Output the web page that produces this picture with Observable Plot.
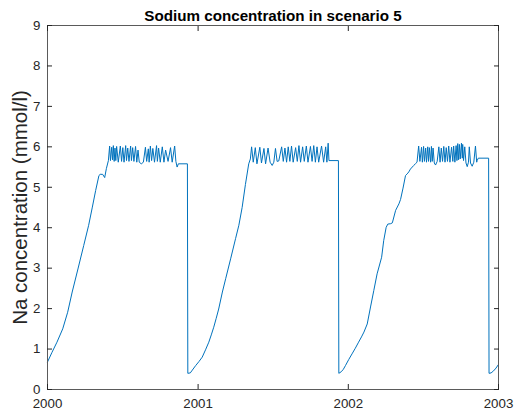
<!DOCTYPE html>
<html>
<head>
<meta charset="utf-8">
<script src="https://cdn.jsdelivr.net/npm/d3@7"></script>
<script src="https://cdn.jsdelivr.net/npm/@observablehq/plot@0.6"></script>
<style>
  html, body { margin: 0; padding: 0; background: #fff; }
</style>
</head>
<body>
<div id="chart"></div>
<script>
// Sodium concentration, scenario 5: [day since 2000-01-01, Na (mmol/l)]
const cycle2000 = [
  [0,0.68],[11,0.92],[23,1.17],[37,1.50],[49,1.91],[60,2.41],[74,2.98],[88,3.56],[100,4.06],
  [109,4.51],[117,4.92],[125,5.29],[128,5.32],[134,5.32],[139,5.24],[143,5.46],[148,5.66],
  [151,6.02],[153,5.66],[156,5.99],[158,5.68],[160,6.03],[162,5.64],[164,5.97],[166,5.66],
  [168,6.01],[172,5.62],[177,6.02],[180,5.64],[183,5.98],[186,5.62],[190,6.03],[192,5.66],
  [195,5.97],[198,5.64],[202,6.02],[204,5.66],[207,5.98],[210,5.64],[214,6.01],[217,5.62],
  [220,5.92],[223,5.62],[228,5.58],[233,5.62],[238,5.99],[241,5.64],[245,5.95],[247,5.62],
  [250,6.02],[253,5.66],[256,5.96],[260,5.62],[265,6.03],[267,5.64],[270,5.97],[274,5.62],
  [279,6.00],[283,5.62],[287,5.92],[293,5.64],[299,5.98],[303,5.62],[309,6.02],[312,5.64],
  [315,5.50],[318,5.58],[340,5.58]
];
const cycle2001 = [
  [341,0.40],[347,0.41],[352,0.48],[360,0.59],[368,0.69],[376,0.80],[384,0.98],[392,1.17],
  [398,1.35],[404,1.54],[410,1.76],[416,1.99],[425,2.41],[433,2.74],[445,3.23],[457,3.73],
  [465,4.06],[473,4.50],[481,5.07],[489,5.58],[493,5.70],
  [496,6.00],[500,5.62],[505,5.98],[509,5.58],[516,5.99],[520,5.60],[526,5.96],[530,5.58],
  [536,5.97],[541,5.62],[546,5.54],[550,5.62],[554,5.96],[558,5.64],[562,5.65],[569,6.00],
  [573,5.64],[577,5.97],[581,5.62],[585,6.00],[589,5.64],[593,6.02],[597,5.62],[603,5.98],
  [607,5.64],[611,6.03],[615,5.62],[620,6.00],[624,5.64],[629,6.02],[633,5.62],[639,6.01],
  [643,5.64],[647,6.03],[651,5.62],[655,6.00],[659,5.62],[666,6.02],[671,5.62],[676,6.00],
  [679,5.62],[682,6.09],[684,5.66],[707,5.66]
];
const cycle2002 = [
  [708,0.40],[714,0.44],[719,0.50],[724,0.59],[732,0.74],[740,0.88],[748,1.02],[756,1.17],
  [763,1.30],[769,1.42],[777,1.62],[785,2.04],[793,2.45],[801,2.86],[812,3.27],[817,3.68],
  [823,4.01],[827,4.09],[834,4.10],[838,4.12],[846,4.43],[854,4.59],[858,4.70],[864,4.98],
  [870,5.29],[874,5.33],[878,5.38],[882,5.45],[890,5.54],[894,5.58],[898,5.62],
  [902,6.02],[905,5.64],[909,5.99],[911,5.62],[914,6.01],[916,5.64],[919,5.97],[921,5.62],
  [924,6.00],[926,5.64],[928,5.98],[931,5.62],[933,6.01],[935,5.64],[937,5.97],[940,5.60],
  [943,5.55],[947,5.64],[951,6.00],[954,5.62],[957,5.97],[960,5.64],[963,6.01],[966,5.62],
  [969,5.98],[972,5.64],[975,6.02],[978,5.62],[982,5.99],[985,5.64],[987,6.02],[990,5.62],
  [993,6.03],[995,5.66],[997,6.08],[999,5.68],[1001,6.06],[1003,5.70],[1006,6.09],[1008,5.72],
  [1009,6.06],[1011,5.66],[1014,6.00],[1017,5.60],[1020,5.51],[1023,5.62],[1025,6.00],[1028,5.60],
  [1032,5.52],[1036,5.62],[1040,6.02],[1043,5.62],[1044,5.66],[1047,5.72],[1072,5.72],
  [1073,0.40],[1078,0.41],[1084,0.46],[1090,0.53],[1096,0.62]
];

const yearTicks = [2000, 2001, 2002, 2003];
const naTicks = [0, 1, 2, 3, 4, 5, 6, 7, 8, 9];
const titleText = "Sodium concentration in scenario 5";
const yLabel = "Na concentration (mmol/l)";

const origin = Date.UTC(2000, 0, 1);
const series = [...cycle2000, ...cycle2001, ...cycle2002]
  .map(([day, na]) => ({date: new Date(origin + day * 864e5), na}));
const yearDates = yearTicks.map(y => new Date(Date.UTC(y, 0, 1)));

const font = '"Liberation Sans", Arial, Helvetica, sans-serif';
const ink = "#262626";

const chart = Plot.plot({
  width: 519,
  height: 420,
  marginTop: 25,
  marginRight: 21,
  marginBottom: 31,
  marginLeft: 47,
  style: {fontFamily: font, fontSize: "13.3px", color: ink, background: "#fff", overflow: "visible"},
  x: {type: "utc", domain: [yearDates[0], yearDates[yearDates.length - 1]]},
  y: {domain: [0, 9]},
  marks: [
    Plot.line(series, {x: "date", y: "na", stroke: "#0072BD", strokeWidth: 1}),
    Plot.frame({stroke: "#5a5a5a", strokeWidth: 1}),
    Plot.axisX(yearDates, {anchor: "bottom", tickSize: -5, tickPadding: 14, tickFormat: "%Y", label: null}),
    Plot.axisX(yearDates, {anchor: "top", tickSize: -5, tickFormat: () => "", label: null}),
    Plot.axisY(naTicks, {anchor: "left", tickSize: -5, tickPadding: 12, label: null}),
    Plot.axisY(naTicks, {anchor: "right", tickSize: -5, tickFormat: () => "", label: null}),
    Plot.text([yLabel], {frameAnchor: "left", dx: -27, rotate: -90, textAnchor: "middle", lineAnchor: "middle",
      fontSize: 20.5, fill: ink, text: d => d}),
    Plot.text([titleText], {frameAnchor: "top", dy: -5, lineAnchor: "bottom", fontSize: 15.2, fontWeight: "bold",
      fill: "#000", text: d => d})
  ]
});

document.getElementById("chart").append(chart);
</script>
</body>
</html>
